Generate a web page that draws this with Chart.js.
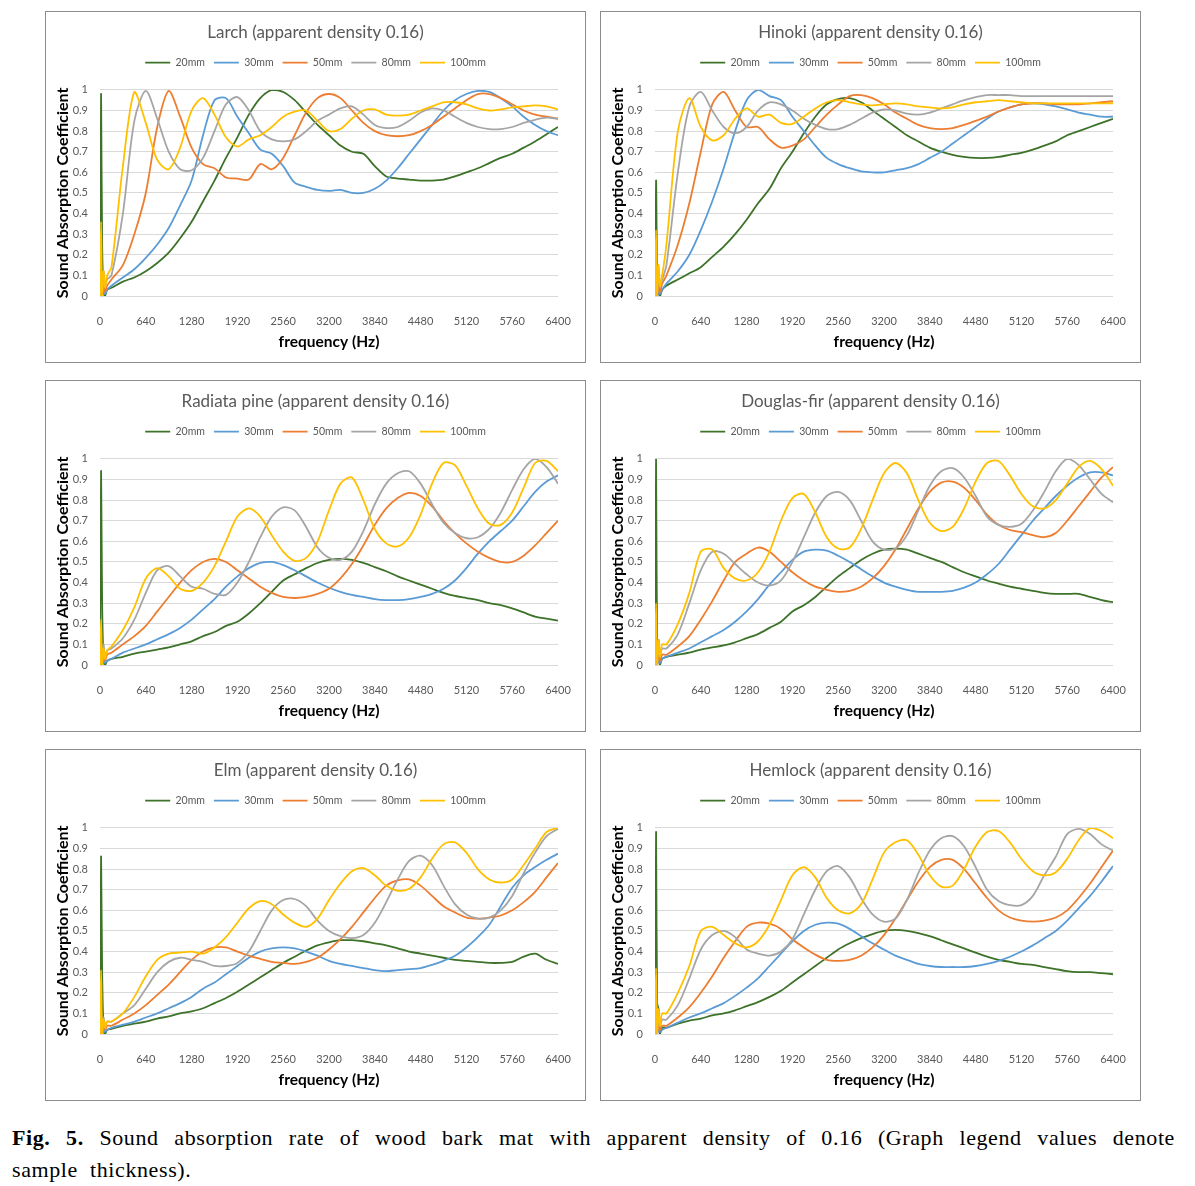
<!DOCTYPE html>
<html><head><meta charset="utf-8">
<script src="https://cdn.jsdelivr.net/npm/chart.js@4.4.1/dist/chart.umd.min.js"></script>
<style>
html,body{margin:0;padding:0;background:#fff;width:1195px;height:1186px;overflow:hidden;}
.panel{position:absolute;width:539px;height:350px;border:1px solid #8c8c8c;background:#fff;}
.panel canvas{display:block;}
#cap{position:absolute;left:12px;top:1122px;width:1163px;font-family:"Liberation Serif","Times New Roman",serif;font-size:22px;letter-spacing:0.6px;line-height:32px;color:#000;}
#cap .l1{text-align:justify;text-align-last:justify;}
#cap .l2{word-spacing:6px;}
</style></head>
<body>
<div id="root"></div>
<div id="cap"><div class="l1"><b>Fig. 5.</b> Sound absorption rate of wood bark mat with apparent density of 0.16 (Graph legend values denote</div><div class="l2">sample thickness).</div></div>
<script>
const freq = [0,15,30,50,70,100,160,320,480,640,800,960,1120,1280,1440,1600,1760,1920,2080,2240,2400,2560,2720,2880,3040,3200,3360,3520,3680,3840,4000,4160,4320,4480,4640,4800,4960,5120,5280,5440,5600,5760,5920,6080,6240,6400];
const xTicks = [0,640,1280,1920,2560,3200,3840,4480,5120,5760,6400];
const yTicks = [0,0.1,0.2,0.3,0.4,0.5,0.6,0.7,0.8,0.9,1];
const seriesLabels = ['20mm','30mm','50mm','80mm','100mm'];
const panelTitles = ['Larch (apparent density 0.16)','Hinoki (apparent density 0.16)','Radiata pine (apparent density 0.16)','Douglas-fir (apparent density 0.16)','Elm (apparent density 0.16)','Hemlock (apparent density 0.16)'];

// Larch
const larch20 = [0,0.98,0.25,0.02,0,0.03, 0.04,0.07,0.09,0.12,0.16,0.21,0.28,0.36,0.46,0.56,0.67,0.77,0.88,0.96,1.0,0.99,0.95,0.89,0.83,0.78,0.73,0.70,0.69,0.63,0.58,0.57,0.565,0.56,0.56,0.565,0.58,0.60,0.62,0.645,0.67,0.69,0.72,0.75,0.785,0.82];
const larch30 = [0,0.05,0,0.02,0.01,0.03, 0.05,0.09,0.13,0.185,0.25,0.33,0.44,0.56,0.78,0.95,0.96,0.87,0.79,0.71,0.69,0.63,0.55,0.53,0.515,0.51,0.515,0.5,0.5,0.52,0.56,0.62,0.69,0.76,0.83,0.9,0.95,0.98,0.995,0.99,0.96,0.92,0.87,0.83,0.8,0.78];
const larch50 = [0,0.12,0,0.06,0.02,0.05, 0.08,0.15,0.3,0.5,0.82,0.995,0.87,0.72,0.64,0.62,0.575,0.57,0.565,0.64,0.615,0.67,0.78,0.89,0.96,0.98,0.96,0.9,0.84,0.8,0.78,0.775,0.78,0.8,0.83,0.87,0.91,0.95,0.98,0.98,0.96,0.93,0.9,0.88,0.87,0.86];
const larch80 = [0,0.1,0.02,0.12,0.05,0.08, 0.1,0.4,0.85,0.995,0.86,0.7,0.615,0.61,0.67,0.8,0.93,0.965,0.9,0.8,0.76,0.75,0.76,0.8,0.85,0.88,0.91,0.92,0.88,0.83,0.815,0.82,0.85,0.89,0.91,0.9,0.87,0.84,0.82,0.81,0.81,0.82,0.84,0.855,0.865,0.86];
const larch100 = [0,0.36,0,0.12,0.04,0.1, 0.14,0.63,0.99,0.84,0.66,0.615,0.72,0.9,0.96,0.88,0.77,0.725,0.76,0.78,0.82,0.87,0.895,0.9,0.85,0.8,0.81,0.86,0.9,0.905,0.88,0.875,0.88,0.9,0.92,0.94,0.94,0.93,0.91,0.9,0.905,0.915,0.92,0.925,0.92,0.905];

// Hinoki
const hinoki20 = [0,0.56,0.12,0.02,0,0.03, 0.05,0.08,0.11,0.14,0.19,0.24,0.3,0.37,0.45,0.52,0.62,0.7,0.79,0.87,0.93,0.955,0.96,0.94,0.9,0.86,0.82,0.78,0.75,0.72,0.7,0.685,0.675,0.67,0.67,0.675,0.685,0.695,0.71,0.73,0.75,0.78,0.8,0.82,0.84,0.86];
const hinoki30 = [0,0.04,0,0.02,0.01,0.03, 0.06,0.12,0.2,0.32,0.46,0.62,0.8,0.95,1.0,0.97,0.95,0.87,0.8,0.73,0.67,0.64,0.62,0.605,0.6,0.6,0.61,0.62,0.64,0.67,0.7,0.74,0.78,0.82,0.86,0.895,0.915,0.93,0.935,0.93,0.92,0.905,0.89,0.88,0.87,0.87];
const hinoki50 = [0,0.1,0,0.05,0.02,0.06, 0.1,0.25,0.45,0.7,0.93,0.99,0.9,0.82,0.82,0.76,0.72,0.73,0.76,0.82,0.88,0.93,0.97,0.975,0.96,0.93,0.89,0.86,0.83,0.815,0.81,0.815,0.83,0.85,0.87,0.895,0.915,0.93,0.935,0.935,0.93,0.93,0.93,0.935,0.94,0.945];
const hinoki80 = [0,0.1,0.02,0.12,0.05,0.08, 0.15,0.6,0.92,0.99,0.9,0.82,0.79,0.82,0.9,0.94,0.93,0.9,0.86,0.83,0.81,0.81,0.83,0.86,0.89,0.905,0.9,0.885,0.88,0.89,0.91,0.93,0.95,0.965,0.975,0.975,0.975,0.97,0.97,0.97,0.97,0.97,0.97,0.97,0.97,0.97];
const hinoki100 = [0,0.32,0,0.15,0.05,0.1, 0.25,0.8,0.96,0.82,0.755,0.78,0.86,0.91,0.87,0.88,0.84,0.835,0.87,0.91,0.94,0.95,0.94,0.93,0.925,0.93,0.935,0.93,0.92,0.915,0.91,0.915,0.93,0.94,0.945,0.95,0.945,0.94,0.935,0.935,0.935,0.935,0.935,0.935,0.935,0.935];

// Radiata pine
const radiata20 = [0,0.94,0.3,0.02,0,0.02, 0.03,0.04,0.055,0.065,0.075,0.085,0.1,0.115,0.14,0.16,0.19,0.21,0.25,0.3,0.355,0.41,0.44,0.47,0.495,0.51,0.515,0.51,0.495,0.475,0.455,0.43,0.41,0.39,0.37,0.35,0.335,0.325,0.315,0.3,0.29,0.275,0.255,0.235,0.225,0.215];
const radiata30 = [0,0.04,0,0.02,0.01,0.02, 0.03,0.06,0.08,0.1,0.125,0.15,0.18,0.22,0.27,0.32,0.38,0.43,0.47,0.495,0.5,0.485,0.46,0.43,0.4,0.375,0.355,0.34,0.33,0.32,0.315,0.315,0.32,0.33,0.345,0.37,0.41,0.47,0.54,0.6,0.65,0.7,0.77,0.84,0.89,0.92];
const radiata50 = [0,0.1,0,0.05,0.02,0.05, 0.06,0.1,0.14,0.19,0.26,0.33,0.4,0.46,0.5,0.515,0.5,0.46,0.42,0.38,0.35,0.33,0.325,0.33,0.345,0.37,0.42,0.49,0.58,0.68,0.76,0.81,0.835,0.82,0.77,0.7,0.64,0.59,0.55,0.52,0.5,0.5,0.53,0.58,0.64,0.7];
const radiata80 = [0,0.08,0.02,0.1,0.04,0.07, 0.08,0.13,0.22,0.35,0.46,0.48,0.43,0.38,0.37,0.345,0.34,0.4,0.5,0.62,0.72,0.765,0.75,0.67,0.57,0.52,0.51,0.55,0.65,0.78,0.88,0.93,0.94,0.88,0.78,0.69,0.64,0.615,0.62,0.66,0.74,0.85,0.95,1.0,0.96,0.88];
const radiata100 = [0,0.22,0,0.08,0.03,0.07, 0.09,0.17,0.28,0.42,0.47,0.43,0.37,0.36,0.4,0.48,0.6,0.72,0.76,0.72,0.63,0.55,0.505,0.52,0.6,0.75,0.88,0.91,0.8,0.66,0.59,0.575,0.62,0.73,0.88,0.98,0.97,0.87,0.76,0.685,0.68,0.74,0.86,0.98,0.99,0.94];

// Douglas-fir
const douglas20 = [0,1.0,0.1,0.12,0,0.03, 0.04,0.05,0.06,0.075,0.085,0.095,0.11,0.13,0.15,0.18,0.21,0.26,0.29,0.33,0.38,0.43,0.47,0.51,0.54,0.56,0.565,0.56,0.54,0.52,0.5,0.475,0.45,0.43,0.41,0.395,0.38,0.37,0.36,0.35,0.345,0.345,0.345,0.33,0.315,0.305];
const douglas30 = [0,0.04,0,0.02,0.01,0.03, 0.04,0.06,0.08,0.11,0.14,0.17,0.21,0.26,0.32,0.39,0.45,0.51,0.55,0.56,0.555,0.53,0.5,0.465,0.43,0.4,0.38,0.365,0.355,0.355,0.355,0.36,0.375,0.4,0.44,0.49,0.56,0.63,0.7,0.76,0.82,0.87,0.91,0.935,0.935,0.92];
const douglas50 = [0,0.1,0,0.05,0.02,0.05, 0.05,0.09,0.14,0.22,0.31,0.41,0.5,0.54,0.57,0.55,0.5,0.45,0.41,0.38,0.365,0.355,0.36,0.38,0.42,0.48,0.56,0.66,0.76,0.84,0.885,0.89,0.86,0.8,0.73,0.68,0.655,0.645,0.63,0.62,0.64,0.7,0.77,0.84,0.91,0.96];
const douglas80 = [0,0.1,0.02,0.12,0.05,0.08, 0.08,0.15,0.3,0.46,0.55,0.54,0.49,0.44,0.4,0.385,0.41,0.5,0.62,0.74,0.82,0.84,0.8,0.7,0.6,0.56,0.565,0.63,0.75,0.87,0.94,0.955,0.91,0.82,0.72,0.68,0.67,0.685,0.75,0.84,0.94,1.0,0.97,0.9,0.83,0.79];
const douglas100 = [0,0.3,0,0.12,0.04,0.1, 0.1,0.2,0.35,0.55,0.56,0.47,0.42,0.41,0.45,0.55,0.7,0.81,0.83,0.74,0.62,0.565,0.57,0.66,0.8,0.93,0.98,0.93,0.8,0.69,0.65,0.67,0.76,0.89,0.98,0.99,0.92,0.83,0.77,0.76,0.8,0.88,0.96,0.99,0.95,0.87];

// Elm
const elm20 = [0,0.86,0.3,0.02,0,0.02, 0.025,0.04,0.05,0.06,0.075,0.085,0.1,0.11,0.125,0.15,0.175,0.205,0.24,0.275,0.31,0.345,0.375,0.405,0.43,0.445,0.455,0.455,0.45,0.44,0.43,0.415,0.4,0.39,0.38,0.37,0.36,0.355,0.35,0.345,0.345,0.35,0.375,0.39,0.36,0.34];
const elm30 = [0,0.04,0,0.02,0.01,0.02, 0.03,0.045,0.06,0.08,0.1,0.125,0.15,0.18,0.22,0.25,0.29,0.33,0.37,0.4,0.415,0.42,0.415,0.4,0.38,0.355,0.34,0.33,0.32,0.31,0.305,0.31,0.315,0.32,0.335,0.355,0.38,0.42,0.47,0.53,0.62,0.71,0.77,0.81,0.845,0.875];
const elm50 = [0,0.08,0,0.05,0.02,0.04, 0.04,0.07,0.1,0.14,0.19,0.24,0.3,0.36,0.4,0.42,0.42,0.4,0.38,0.365,0.35,0.345,0.34,0.35,0.37,0.41,0.46,0.52,0.59,0.66,0.72,0.745,0.75,0.72,0.67,0.62,0.59,0.565,0.56,0.565,0.575,0.6,0.64,0.69,0.76,0.83];
const elm80 = [0,0.08,0.02,0.08,0.04,0.06, 0.06,0.1,0.14,0.22,0.3,0.35,0.37,0.36,0.35,0.33,0.33,0.345,0.4,0.5,0.6,0.65,0.655,0.62,0.55,0.5,0.475,0.465,0.48,0.54,0.64,0.75,0.84,0.865,0.82,0.72,0.63,0.58,0.56,0.565,0.6,0.67,0.78,0.88,0.96,0.995];
const elm100 = [0,0.31,0,0.07,0.03,0.06, 0.06,0.1,0.18,0.28,0.36,0.39,0.395,0.4,0.39,0.42,0.47,0.54,0.61,0.645,0.63,0.58,0.54,0.52,0.56,0.65,0.73,0.79,0.805,0.77,0.72,0.695,0.705,0.76,0.85,0.92,0.93,0.88,0.8,0.75,0.735,0.75,0.82,0.9,0.98,1.0];

// Hemlock
const hemlock20 = [0,0.98,0.15,0.12,0,0.03, 0.03,0.05,0.065,0.075,0.09,0.1,0.115,0.135,0.155,0.18,0.21,0.25,0.29,0.33,0.37,0.41,0.44,0.465,0.485,0.5,0.505,0.5,0.49,0.475,0.455,0.435,0.415,0.395,0.375,0.36,0.35,0.34,0.335,0.325,0.315,0.305,0.3,0.3,0.295,0.29];
const hemlock30 = [0,0.04,0,0.02,0.01,0.02, 0.03,0.055,0.08,0.1,0.125,0.15,0.185,0.225,0.27,0.33,0.39,0.45,0.5,0.53,0.54,0.535,0.51,0.475,0.44,0.41,0.38,0.36,0.34,0.33,0.325,0.325,0.325,0.33,0.34,0.355,0.375,0.4,0.43,0.465,0.5,0.55,0.61,0.67,0.74,0.815];
const hemlock50 = [0,0.1,0,0.05,0.02,0.04, 0.04,0.08,0.13,0.2,0.28,0.37,0.45,0.52,0.54,0.535,0.51,0.46,0.42,0.385,0.36,0.355,0.36,0.38,0.42,0.48,0.56,0.65,0.74,0.81,0.845,0.845,0.8,0.73,0.66,0.6,0.565,0.55,0.545,0.55,0.565,0.6,0.66,0.73,0.81,0.89];
const hemlock80 = [0,0.1,0.02,0.1,0.04,0.07, 0.07,0.14,0.27,0.41,0.48,0.5,0.47,0.41,0.39,0.38,0.4,0.46,0.58,0.7,0.79,0.815,0.76,0.66,0.58,0.545,0.56,0.65,0.78,0.89,0.95,0.96,0.91,0.81,0.7,0.645,0.625,0.625,0.67,0.77,0.86,0.97,0.995,0.97,0.92,0.89];
const hemlock100 = [0,0.32,0,0.12,0.04,0.1, 0.1,0.2,0.33,0.5,0.52,0.48,0.44,0.42,0.45,0.53,0.65,0.77,0.81,0.76,0.66,0.6,0.585,0.63,0.75,0.88,0.93,0.94,0.87,0.77,0.715,0.72,0.8,0.91,0.98,0.985,0.93,0.85,0.79,0.77,0.785,0.85,0.94,1.0,0.985,0.95];

const seriesColors = ['#3d7229','#5b9bd5','#ed7d31','#a5a5a5','#ffc000'];

const panels = [
  {title: panelTitles[0], series: [larch20, larch30, larch50, larch80, larch100]},
  {title: panelTitles[1], series: [hinoki20, hinoki30, hinoki50, hinoki80, hinoki100]},
  {title: panelTitles[2], series: [radiata20, radiata30, radiata50, radiata80, radiata100]},
  {title: panelTitles[3], series: [douglas20, douglas30, douglas50, douglas80, douglas100]},
  {title: panelTitles[4], series: [elm20, elm30, elm50, elm80, elm100]},
  {title: panelTitles[5], series: [hemlock20, hemlock30, hemlock50, hemlock80, hemlock100]}
];
const panelLefts = [45, 600];
const panelTops = [11, 380, 749];

const root = document.getElementById('root');
panels.forEach((p, k) => {
  const div = document.createElement('div');
  div.className = 'panel';
  div.style.left = panelLefts[k % 2] + 'px';
  div.style.top = panelTops[Math.floor(k / 2)] + 'px';
  const cv = document.createElement('canvas');
  cv.width = 539; cv.height = 350;
  cv.style.width = '539px'; cv.style.height = '350px';
  div.appendChild(cv);
  root.appendChild(div);

  const datasets = p.series.map((vals, i) => ({
    label: seriesLabels[i],
    data: vals.map((v, j) => ({x: freq[j], y: v})),
    borderColor: seriesColors[i],
    backgroundColor: seriesColors[i],
    borderWidth: 1.8,
    pointRadius: 0,
    pointHoverRadius: 0,
    tension: 0.3,
    fill: false,
    order: 5 - i,
    xAxisID: 'x',
    yAxisID: 'y'
  }));

  new Chart(cv, {
    type: 'line',
    data: {datasets},
    options: {
      responsive: false,
      animation: false,
      devicePixelRatio: 1,
      events: [],
      layout: {padding: 0},
      plugins: {
        title: {display: true, text: p.title, color: '#595959',
          font: {family: 'Lato', size: 17, weight: 'normal'}, padding: {top: 10, bottom: 6}},
        legend: {display: true, position: 'top',
          labels: {usePointStyle: true, pointStyle: 'line', pointStyleWidth: 25, boxHeight: 11,
            color: '#595959', font: {family: 'Lato', size: 10.5}, padding: 9,
            sort: (a, b) => a.datasetIndex - b.datasetIndex}},
        tooltip: {enabled: false}
      },
      scales: {
        x: {type: 'linear', position: 'bottom', min: 0, max: 6400,
          afterBuildTicks: s => { s.ticks = xTicks.map(v => ({value: v})); },
          afterFit: s => { s.height = 66; },
          grid: {display: false}, border: {display: false},
          ticks: {color: '#595959', font: {family: 'Lato', size: 11}, padding: 11, maxRotation: 0, autoSkip: false,
            callback: v => String(v)},
          title: {display: true, text: 'frequency (Hz)', color: '#000',
            font: {family: 'Lato', size: 15.5, weight: 'bold'}, padding: {top: 0, bottom: 11}}},
        xPad: {type: 'linear', position: 'top', display: true,
          grid: {display: false}, border: {display: false}, ticks: {display: false},
          afterFit: s => { s.height = 12; }},
        yPad: {type: 'linear', position: 'right', display: true,
          grid: {display: false}, border: {display: false}, ticks: {display: false},
          afterFit: s => { s.width = 27; }},
        y: {type: 'linear', position: 'left', min: 0, max: 1,
          afterBuildTicks: s => { s.ticks = yTicks.map(v => ({value: v})); },
          afterFit: s => { s.width = 54; },
          grid: {color: '#d9d9d9', lineWidth: 1, drawTicks: false}, border: {display: false},
          ticks: {color: '#595959', font: {family: 'Lato', size: 11}, padding: 12,
            callback: v => String(Math.round(v * 10) / 10)},
          title: {display: true, text: 'Sound Absorption Coefficient', color: '#000',
            font: {family: 'Lato', size: 16, weight: 'bold'}, padding: {top: 7, bottom: 0}}}
      }
    }
  });
});
</script>
</body></html>
